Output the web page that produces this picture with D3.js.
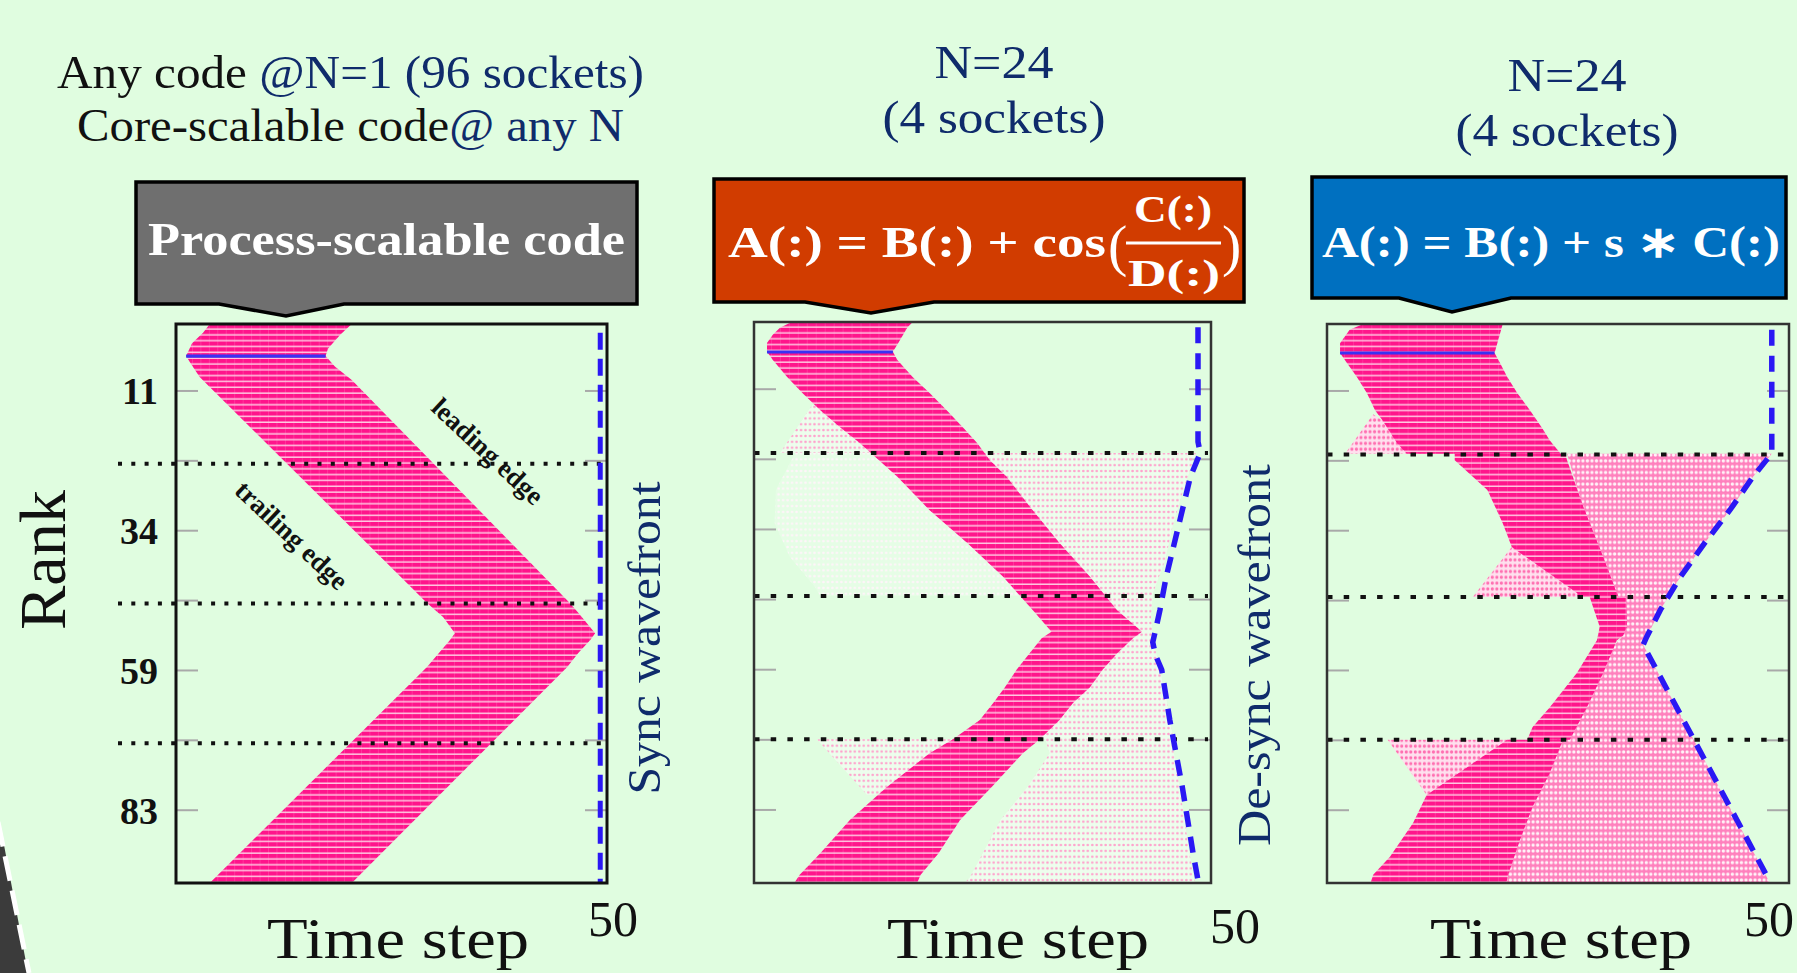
<!DOCTYPE html>
<html>
<head>
<meta charset="utf-8">
<script src="https://cdn.jsdelivr.net/npm/d3@7"></script>
<style>
  html, body { margin: 0; padding: 0; background: #e0fde0; overflow: hidden; }
  svg { display: block; }
</style>
</head>
<body>
<svg id="chart" width="1797" height="973"></svg>
<script>
// ---------------- data ----------------
// y axis: MPI rank (0..95), x axis: time step (0..51)
const rankTicks = [11, 23, 35, 47, 59, 71, 83];
const rankLabelTicks = [11, 35, 59, 83];
const rankLabels = ["11", "34", "59", "83"];
const stepDomain = [0, 51];
const rankDomain = [-0.5, 95.5];
const stepLabel = 50;

// socket boundaries (rank units)
const socketBounds1 = [23.5, 47.5, 71.5];
const socketBounds23 = [21.9, 46.4, 70.9];

// panel 1: process-scalable code, one idle wave band  [step, rank]
const p1Band = [
  [4.0, -0.5], [3.2, 1.0], [1.9, 2.8], [1.2, 5.0], [1.7, 6.2], [2.8, 8.6],
  [29.7, 47.4], [31.6, 49.8], [33.0, 52.6], [32.4, 53.8], [29.7, 58.4], [4.0, 95.5],
  [20.8, 95.5], [46.3, 58.4], [47.6, 56.0], [49.0, 53.8], [49.6, 52.6], [47.6, 49.1],
  [46.6, 47.4], [20.8, 9.1], [18.8, 6.8], [17.7, 5.0], [18.0, 3.7], [19.4, 1.4], [20.8, -0.5]
];
const p1Delay = [[1.2, 5.0], [17.7, 5.0]];
const p1Wave = [[50.2, 1.0], [50.2, 95.5]];

// panel 2: A(:) = B(:) + cos(C(:)/D(:))
const p2Band = [
  [4.2, -0.5], [2.9, 0.5], [2.1, 1.7], [1.45, 3.1], [1.45, 4.6], [2.1, 6.0], [3.7, 8.9],
  [5.4, 11.65], [7.4, 14.6], [9.6, 17.5], [11.8, 20.2], [16.0, 26.0], [19.6, 31.7],
  [23.8, 37.3], [27.8, 43.1], [31.1, 48.8], [33.2, 52.5], [32.1, 53.6], [30.8, 56.1],
  [29.3, 59.0], [28.0, 62.0], [26.7, 64.7], [25.2, 67.6], [22.2, 70.9], [19.6, 73.3],
  [14.8, 79.1], [10.7, 84.7], [7.4, 90.4], [5.1, 94.1], [4.5, 95.5],
  [18.2, 95.5], [18.6, 94.1], [20.6, 90.4], [23.0, 84.7], [26.5, 79.1], [30.0, 73.3],
  [31.9, 70.9], [34.1, 67.6], [35.6, 64.7], [37.5, 62.0], [38.9, 59.0], [40.6, 56.1],
  [42.3, 53.6], [43.3, 52.5], [40.5, 48.8], [37.5, 43.1], [34.1, 37.3], [31.1, 31.7],
  [28.2, 26.0], [26.3, 23.1], [24.9, 20.2], [23.3, 17.5], [21.5, 14.6], [19.6, 11.65],
  [17.7, 8.9], [16.0, 6.0], [15.5, 4.6], [16.1, 3.1], [17.1, 0.5], [17.7, -0.5]
];
const p2PaleA = [[6.5, 13.7], [2.9, 21.9], [14.5, 21.9], [9.0, 15.0]];
const p2GhostB = [[4.6, 21.9], [2.45, 28.2], [2.3, 33.9], [4.0, 39.7], [6.8, 44.8], [7.4, 46.4], [30.0, 46.4], [14.5, 21.9]];
const p2PaleC = [[24.0, 21.9], [49.3, 21.9], [47.8, 28.8], [46.7, 34.6], [45.9, 40.2], [44.5, 46.0], [44.3, 50.0],
  [44.5, 53.4], [45.3, 59.0], [46.1, 64.7], [46.8, 70.9], [28.0, 70.9], [38.0, 52.5]];
const p2PaleD = [[7.0, 70.9], [25.0, 70.9], [14.0, 80.4], [12.6, 80.4]];
const p2PaleE = [[32.5, 70.9], [46.6, 70.9], [47.5, 79.1], [48.6, 90.4], [49.2, 95.5], [23.5, 95.5],
  [24.1, 94.5], [27.5, 84.7], [30.5, 79.1], [33.0, 73.3]];
const p2Delay = [[1.45, 4.63], [15.5, 4.63]];
const p2Wave = [[49.55, 0.4], [49.55, 20.0], [49.8, 21.9], [48.7, 26.0], [46.0, 43.1], [45.3, 48.8],
  [44.9, 51.6], [44.5, 54.3], [44.8, 56.5], [45.5, 59.0], [46.4, 67.6], [47.8, 79.1], [49.0, 90.4], [49.55, 95.0]];

// panel 3: A(:) = B(:) + s * C(:)
const p3Band1 = [[4.0, -0.5], [2.5, 0.5], [1.44, 2.8], [1.44, 4.5], [2.2, 6.2], [3.3, 8.6], [4.4, 11.35],
  [5.3, 14.3], [6.1, 16.0], [7.7, 19.9], [8.8, 21.8], [25.8, 21.8], [24.6, 19.5], [23.8, 17.5],
  [22.4, 14.3], [21.0, 11.35], [19.9, 8.6], [19.1, 6.2], [18.5, 4.5], [18.8, 2.8], [19.4, -0.5]];
const p3Band2 = [[14.1, 21.8], [14.1, 22.9], [17.7, 28.0], [19.4, 33.7], [20.4, 37.8], [27.6, 45.7],
  [27.9, 46.4], [32.2, 46.4], [32.0, 45.7], [30.5, 39.5], [28.3, 30.9], [26.5, 22.9], [26.3, 21.8]];
const p3Band3 = [[29.0, 46.4], [30.1, 51.5], [29.8, 53.8], [27.6, 59.4], [24.6, 65.3], [22.7, 68.7],
  [22.1, 70.9], [26.8, 70.9], [28.7, 65.3], [30.5, 59.4], [32.0, 53.8], [32.7, 53.0], [33.1, 51.5], [33.0, 46.4]];
const p3Band4 = [[19.9, 70.9], [11.0, 80.4], [9.5, 85.2], [6.95, 91.0], [5.1, 94.1], [4.8, 95.5],
  [19.8, 95.5], [20.0, 94.1], [21.3, 88.1], [22.7, 82.4], [24.6, 76.6], [26.05, 70.9]];
const p3LightA = [[5.1, 15.0], [2.0, 21.8], [12.1, 21.8], [7.0, 17.0]];
const p3LightB = [[20.4, 37.8], [16.1, 46.4], [28.5, 46.4], [25.0, 42.0]];
const p3LightC = [[6.7, 70.9], [20.5, 70.9], [11.0, 80.4]];
const p3Dots = [[26.5, 21.8], [49.1, 21.8], [47.0, 25.8], [44.5, 31.4], [41.7, 37.1], [39.0, 42.95],
  [36.8, 48.6], [35.3, 53.2], [34.9, 54.6], [48.9, 95.5], [19.8, 95.5], [22.0, 80.0], [25.0, 71.4],
  [28.0, 65.0], [31.0, 56.0], [32.7, 53.0], [32.0, 46.0], [29.0, 35.0]];
const p3Delay = [[1.44, 4.48], [18.5, 4.48]];
const p3Wave = [[49.1, 0.5], [49.1, 21.4], [48.8, 22.3], [47.0, 25.8], [44.5, 31.4], [41.7, 37.1],
  [39.0, 42.95], [36.8, 48.6], [35.3, 53.2], [34.9, 54.6], [48.9, 95.3]];

// ---------------- layout ----------------
const panels = [
  { xr: [176, 607], yr: [324, 883], frame: "#111", frameW: 3, soft: false,
    socketX: [118, 604], dotDash: "4 9.3", dotW: 4.2, waveW: 5, waveDash: "17 9",
    bounds: socketBounds1, dense: [p1Band], ghost: [], pale: [], light: [], mid: [],
    delay: p1Delay, wave: p1Wave, labelX: 613, labelY: 936, stepX: 398, stepY: 958 },
  { xr: [754, 1211], yr: [322, 883], frame: "#333", frameW: 2.5, soft: true,
    socketX: [754, 1208], dotDash: "5.5 11.2", dotW: 4, waveW: 5.5, waveDash: "16 10",
    bounds: socketBounds23, dense: [p2Band], ghost: [p2GhostB], pale: [p2PaleA, p2PaleC, p2PaleD, p2PaleE],
    light: [], mid: [], delay: p2Delay, wave: p2Wave, labelX: 1235, labelY: 943, stepX: 1018, stepY: 958 },
  { xr: [1327, 1789], yr: [324, 883], frame: "#333", frameW: 2.5, soft: true,
    socketX: [1327, 1786], dotDash: "5.5 11.2", dotW: 4, waveW: 5.5, waveDash: "16 10",
    bounds: socketBounds23, dense: [p3Band1, p3Band2, p3Band3, p3Band4], ghost: [], pale: [],
    light: [p3LightA, p3LightB, p3LightC], mid: [p3Dots],
    delay: p3Delay, wave: p3Wave, labelX: 1769, labelY: 936, stepX: 1561, stepY: 958 }
];

const NAVY = "#0f2b6b";
const SERIF = "'Liberation Serif', 'Times New Roman', serif";

const svg = d3.select("#chart");
const defs = svg.append("defs");
defs.append("filter").attr("id", "soft").attr("x", "-5%").attr("y", "-5%").attr("width", "110%").attr("height", "110%")
  .append("feGaussianBlur").attr("stdDeviation", 0.7);

svg.append("rect").attr("width", 1797).attr("height", 973).attr("fill", "#e0fde0");

// cell textures aligned with each panel's step/rank grid
function makePatterns(i, x, y) {
  const w = x(1) - x(0), h = y(0.5) - y(-0.5);
  const ox = x(0), oy = y(-0.5);
  const pat = (name, pw) => defs.append("pattern").attr("id", name + i)
    .attr("patternUnits", "userSpaceOnUse").attr("x", ox).attr("y", oy)
    .attr("width", pw).attr("height", h);

  const dense = pat("dense", w);
  dense.append("rect").attr("width", w).attr("height", h).attr("fill", "#ff148b");
  dense.append("rect").attr("y", h - 1.5).attr("width", w).attr("height", 1.5).attr("fill", "#ffc8e1");
  dense.append("rect").attr("x", w - 0.8).attr("width", 0.8).attr("height", h).attr("fill", "#ffc8e1").attr("opacity", 0.22);

  const hw = w / 2;
  const mid = pat("mid", hw);
  mid.append("rect").attr("width", hw).attr("height", h).attr("fill", "#ff80bd");
  mid.append("circle").attr("cx", hw / 2).attr("cy", h / 2).attr("r", 1.7).attr("fill", "#fff3f8");

  const light = pat("light", hw);
  light.append("rect").attr("width", hw).attr("height", h).attr("fill", "#ffe0ee");
  light.append("circle").attr("cx", hw / 2).attr("cy", h / 2).attr("r", 1.6).attr("fill", "#ff6fb1");

  const pale = pat("pale", hw);
  pale.append("rect").attr("width", hw).attr("height", h).attr("fill", "#ffffff").attr("opacity", 0.42);
  pale.append("circle").attr("cx", hw / 2).attr("cy", h / 2).attr("r", 1.3).attr("fill", "#ffa0cc");

  const ghost = pat("ghost", hw);
  ghost.append("rect").attr("width", hw).attr("height", h).attr("fill", "#ffffff").attr("opacity", 0.18);
  ghost.append("circle").attr("cx", hw / 2).attr("cy", h / 2).attr("r", 1.3).attr("fill", "#fff4f9");
}

panels.forEach((p, i) => {
  const x = d3.scaleLinear(stepDomain, p.xr);
  const y = d3.scaleLinear(rankDomain, p.yr);
  makePatterns(i, x, y);
  const line = d3.line().x(d => x(d[0])).y(d => y(d[1]));
  const g = svg.append("g");

  // gray rank ticks on both sides
  const tickLen = 22;
  g.append("g").selectAll("line").data(rankTicks).join("line")
    .attr("x1", p.xr[0]).attr("x2", p.xr[0] + tickLen)
    .attr("y1", d => y(d)).attr("y2", d => y(d))
    .attr("stroke", "#a9a9a9").attr("stroke-width", 2);
  g.append("g").selectAll("line").data(rankTicks).join("line")
    .attr("x1", p.xr[1] - tickLen).attr("x2", p.xr[1])
    .attr("y1", d => y(d)).attr("y2", d => y(d))
    .attr("stroke", "#a9a9a9").attr("stroke-width", 2);

  const marks = g.append("g").attr("filter", p.soft ? "url(#soft)" : null);
  const layer = (list, fill) => marks.append("g").selectAll("path").data(list).join("path")
    .attr("d", d => line(d) + "Z").attr("fill", fill);
  layer(p.ghost, `url(#ghost${i})`);
  layer(p.pale, `url(#pale${i})`);
  layer(p.light, `url(#light${i})`);
  layer(p.mid, `url(#mid${i})`);
  layer(p.dense, `url(#dense${i})`);

  // injected delay
  marks.append("path").attr("d", line(p.delay))
    .attr("stroke", "#3a32f2").attr("stroke-width", 3.2).attr("fill", "none");

  // socket boundaries
  g.append("g").selectAll("line").data(p.bounds).join("line")
    .attr("x1", p.socketX[0]).attr("x2", p.socketX[1])
    .attr("y1", d => y(d)).attr("y2", d => y(d))
    .attr("stroke", "#111").attr("stroke-width", p.dotW).attr("stroke-dasharray", p.dotDash);

  // wavefront
  g.append("path").attr("d", line(p.wave)).attr("fill", "none")
    .attr("stroke", "#2a18f4").attr("stroke-width", p.waveW).attr("stroke-dasharray", p.waveDash);

  // frame
  g.append("rect").attr("x", p.xr[0]).attr("y", p.yr[0])
    .attr("width", p.xr[1] - p.xr[0]).attr("height", p.yr[1] - p.yr[0])
    .attr("fill", "none").attr("stroke", p.frame).attr("stroke-width", p.frameW);

  // x labels
  svg.append("text").attr("x", p.labelX).attr("y", p.labelY)
    .attr("text-anchor", "middle").attr("font-family", SERIF).attr("font-size", 50)
    .attr("fill", "#111").text(stepLabel);
  svg.append("text").attr("x", p.stepX).attr("y", p.stepY)
    .attr("text-anchor", "middle").attr("font-family", SERIF).attr("font-size", 58)
    .attr("textLength", 262).attr("lengthAdjust", "spacingAndGlyphs")
    .attr("fill", "#111").text("Time step");

  // rank labels on the first panel
  if (i === 0) {
    svg.append("g").selectAll("text").data(rankLabelTicks).join("text")
      .attr("x", 158).attr("y", d => y(d)).attr("dy", "0.35em")
      .attr("text-anchor", "end").attr("font-family", SERIF).attr("font-weight", "bold")
      .attr("font-size", 38).attr("fill", "#111")
      .text((d, k) => rankLabels[k]);
  }
});

// ---------------- annotations ----------------
function txt(s, o) {
  const t = svg.append("text").attr("font-family", SERIF).attr("fill", o.fill || "#111")
    .attr("font-size", o.size).attr("x", o.x).attr("y", o.y);
  if (o.anchor) t.attr("text-anchor", o.anchor);
  if (o.weight) t.attr("font-weight", o.weight);
  if (o.len) t.attr("textLength", o.len).attr("lengthAdjust", "spacingAndGlyphs");
  if (o.transform) t.attr("transform", o.transform);
  if (o.dy) t.attr("dy", o.dy);
  if (Array.isArray(s)) s.forEach(([str, c]) => t.append("tspan").attr("fill", c).text(str));
  else t.text(s);
  return t;
}

// headers
txt([["Any code ", "#111"], ["@N=1 (96 sockets)", NAVY]], { x: 57, y: 88, size: 47, len: 587 });
txt([["Core-scalable code", "#111"], ["@ any N", NAVY]], { x: 77, y: 141, size: 47, len: 547 });
txt("N=24", { x: 994, y: 78, size: 46, anchor: "middle", fill: NAVY, len: 119 });
txt("(4 sockets)", { x: 994, y: 133, size: 46, anchor: "middle", fill: NAVY, len: 223 });
txt("N=24", { x: 1567, y: 91, size: 46, anchor: "middle", fill: NAVY, len: 119 });
txt("(4 sockets)", { x: 1567, y: 146, size: 46, anchor: "middle", fill: NAVY, len: 223 });

// callout boxes
const callouts = [
  { d: "M136,182H637V304H344L286,316L219,304H136Z", fill: "#6f6f6f" },
  { d: "M714,179H1244V302H934L871,313L805,302H714Z", fill: "#d13c00" },
  { d: "M1312,177H1786V298H1511L1452,312L1399,298H1312Z", fill: "#0070c0" }
];
svg.append("g").selectAll("path").data(callouts).join("path")
  .attr("d", d => d.d).attr("fill", d => d.fill)
  .attr("stroke", "#000").attr("stroke-width", 3.5).attr("stroke-linejoin", "miter");

txt("Process-scalable code", { x: 148, y: 255, size: 46, weight: "bold", fill: "#fff", len: 477 });
txt("A(:) = B(:) + cos", { x: 728, y: 257, size: 44, weight: "bold", fill: "#fff", len: 378 });
txt("(", { x: 1108, y: 265, size: 58, fill: "#fff" });
txt("C(:)", { x: 1173, y: 222, size: 38, weight: "bold", fill: "#fff", anchor: "middle", len: 78 });
svg.append("line").attr("x1", 1126).attr("x2", 1221).attr("y1", 243).attr("y2", 243)
  .attr("stroke", "#fff").attr("stroke-width", 3);
txt("D(:)", { x: 1174, y: 286, size: 38, weight: "bold", fill: "#fff", anchor: "middle", len: 92 });
txt(")", { x: 1222, y: 265, size: 58, fill: "#fff" });
txt("A(:) = B(:) + s \u2217 C(:)", { x: 1322, y: 257, size: 44, weight: "bold", fill: "#fff", len: 458 });

// axis titles
txt("Rank", { x: 0, y: 0, size: 66, anchor: "middle", len: 140, transform: "translate(65,560) rotate(-90)" });
txt("Sync wavefront", { x: 0, y: 0, size: 47, anchor: "middle", fill: NAVY, len: 313, transform: "translate(660,638) rotate(-90)" });
txt("De-sync wavefront", { x: 0, y: 0, size: 47, anchor: "middle", fill: NAVY, len: 382, transform: "translate(1270,655) rotate(-90)" });

// wave edge labels
txt("leading edge", { x: 0, y: 0, size: 27, weight: "bold", anchor: "middle", dy: "0.35em", len: 142, transform: "translate(488,451) rotate(43)" });
txt("trailing edge", { x: 0, y: 0, size: 27, weight: "bold", anchor: "middle", dy: "0.35em", len: 144, transform: "translate(292,535) rotate(43.5)" });

// slide edge decoration (bottom left)
svg.append("path").attr("d", "M0,844L4,845L28,973L0,973Z").attr("fill", "#3b3b3b");
svg.append("path").attr("d", "M-2,822L29,973").attr("stroke", "#fff").attr("stroke-width", 5)
  .attr("stroke-dasharray", "25 10").attr("fill", "none");
</script>
</body>
</html>
